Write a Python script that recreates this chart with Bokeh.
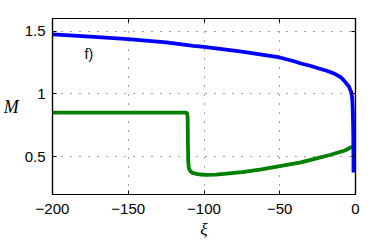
from bokeh.plotting import figure
from bokeh.models import LinearAxis, FixedTicker, Label, Range1d
from bokeh.embed import file_html
from bokeh.resources import INLINE

# Data
blue_xi = [-200, -175, -150, -125, -107, -100, -75, -50, -40, -36, -30, -23, -18, -14.3, -10, -7.7, -4.4, -2.8, -2.2, -1.8, -1.5, -1.35, -1.3]
blue_M = [1.473, 1.456, 1.436, 1.41, 1.382, 1.374, 1.337, 1.29, 1.258, 1.242, 1.224, 1.198, 1.18, 1.163, 1.135, 1.108, 1.06, 1.014, 0.97, 0.88, 0.7, 0.5, 0.375]

green_xi = [-200, -112, -111.2, -110.8, -110.6, -110.4, -110.0, -109.0, -107.5, -105, -102, -98, -92, -75, -62, -50, -36, -25, -16.4, -7, -3.3, 0]
green_M = [0.851, 0.851, 0.846, 0.82, 0.6, 0.46, 0.41, 0.385, 0.372, 0.364, 0.359, 0.356, 0.358, 0.378, 0.4, 0.425, 0.456, 0.49, 0.516, 0.55, 0.574, 0.586]

x_ticks = [-200, -150, -100, -50, 0]
x_tick_labels = ["\u2212200", "\u2212150", "\u2212100", "\u221250", "0"]
y_ticks = [0.5, 1.0, 1.5]
y_tick_labels = ["0.5", "1", "1.5"]

panel_label = "f)"
panel_label_pos = (-176, 1.316)

p = figure(width=392, height=242,
           x_range=Range1d(-200, 0), y_range=Range1d(0.2, 1.6),
           output_backend="svg", toolbar_location=None,
           min_border_left=49, min_border_right=37, min_border_top=18, min_border_bottom=48,
           background_fill_color="white", border_fill_color="white")

p.outline_line_color = "black"
p.outline_line_width = 1.2

label_font = "Liberation Sans"
for ax, ticks, labels in ((p.xaxis[0], x_ticks, x_tick_labels), (p.yaxis[0], y_ticks, y_tick_labels)):
    ax.ticker = FixedTicker(ticks=ticks)
    ax.major_label_overrides = {t: l for t, l in zip(ticks, labels)}
    ax.major_tick_in = 4
    ax.major_tick_out = 0
    ax.minor_tick_line_color = None
    ax.axis_line_color = "black"
    ax.axis_line_width = 1.2
    ax.major_tick_line_color = "black"
    ax.major_label_text_font = label_font
    ax.major_label_text_font_size = "15px"
    ax.major_label_text_color = "black"
    ax.axis_label_text_font = "Liberation Serif"
    ax.axis_label_text_font_style = "italic"
    ax.axis_label_text_color = "black"

p.xaxis[0].axis_label = "\u03be"
p.xaxis[0].axis_label_text_font_size = "17px"
p.xaxis[0].major_label_standoff = 9
p.xaxis[0].axis_label_standoff = 3
p.yaxis[0].axis_label = "M"
p.yaxis[0].axis_label_text_font_size = "18px"
p.yaxis[0].axis_label_orientation = "horizontal"
p.yaxis[0].major_label_standoff = 7
p.yaxis[0].axis_label_standoff = 3

# box ticks on top and right
for loc, ticks in (("above", x_ticks), ("right", y_ticks)):
    ax = LinearAxis(ticker=FixedTicker(ticks=ticks))
    ax.major_label_overrides = {t: "" for t in ticks}
    ax.major_label_text_font_size = "1px"
    ax.major_label_text_color = None
    ax.major_label_standoff = 0
    ax.major_tick_in = 4
    ax.major_tick_out = 0
    ax.minor_tick_line_color = None
    ax.axis_line_color = "black"
    ax.axis_line_width = 1.2
    p.add_layout(ax, loc)

for g, ticks in ((p.xgrid[0], x_ticks), (p.ygrid[0], y_ticks)):
    g.ticker = FixedTicker(ticks=ticks)
    g.grid_line_color = "#444444"
    g.grid_line_dash = "1 8"
    g.grid_line_width = 1

p.line(green_xi, green_M, line_color="#008000", line_width=3.8, line_join="round")
p.line(blue_xi, blue_M, line_color="#0000ff", line_width=3.8, line_join="round")

p.add_layout(Label(x=panel_label_pos[0], y=panel_label_pos[1], text=panel_label,
                   text_font=label_font, text_font_size="14px", text_color="black",
                   text_align="center", text_baseline="middle"))

open("out.html", "w").write(file_html(p, INLINE))
